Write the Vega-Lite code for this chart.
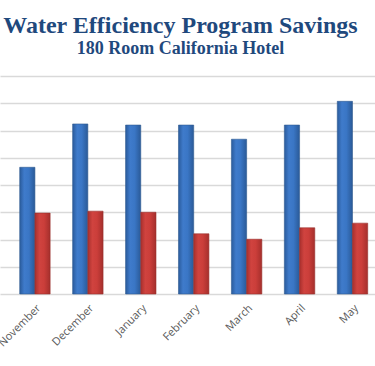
{
  "$schema": "https://vega.github.io/schema/vega-lite/v6.json",
  "autosize": "none",
  "width": 375,
  "height": 218,
  "padding": {"left": 0, "top": 76, "right": 0, "bottom": 72},
  "background": "white",
  "title": {
    "text": "Water Efficiency Program Savings",
    "subtitle": "180 Room California Hotel",
    "anchor": "middle",
    "dx": -7,
    "offset": 18,
    "font": "Liberation Serif",
    "fontSize": 24,
    "fontWeight": "bold",
    "color": "#1F497D",
    "subtitleFont": "Liberation Serif",
    "subtitleFontSize": 18,
    "subtitleFontWeight": "bold",
    "subtitleColor": "#1F497D",
    "subtitlePadding": 2
  },
  "data": {
    "values": [
      {"month": "November", "series": "Before", "value": 46.5},
      {"month": "November", "series": "After", "value": 29.7},
      {"month": "December", "series": "Before", "value": 62.4},
      {"month": "December", "series": "After", "value": 30.4},
      {"month": "January", "series": "Before", "value": 62.0},
      {"month": "January", "series": "After", "value": 30.0},
      {"month": "February", "series": "Before", "value": 62.0},
      {"month": "February", "series": "After", "value": 22.1},
      {"month": "March", "series": "Before", "value": 56.8},
      {"month": "March", "series": "After", "value": 20.1},
      {"month": "April", "series": "Before", "value": 62.0},
      {"month": "April", "series": "After", "value": 24.3},
      {"month": "May", "series": "Before", "value": 70.7},
      {"month": "May", "series": "After", "value": 26.0}
    ]
  },
  "encoding": {
    "x": {
      "field": "month",
      "type": "nominal",
      "sort": null,
      "scale": {"paddingInner": 0.425, "paddingOuter": 0.255, "align": 0.73},
      "axis": {
        "title": null,
        "labelAngle": -45,
        "labelFont": "Open Sans",
        "labelFontSize": 11,
        "labelColor": "#595959",
        "labelPadding": 8,
        "ticks": false,
        "domain": false
      }
    },
    "xOffset": {"field": "series", "type": "nominal", "sort": ["Before", "After"]},
    "y": {
      "field": "value",
      "type": "quantitative",
      "scale": {"domain": [0, 80], "nice": false},
      "axis": {
        "title": null,
        "labels": false,
        "ticks": false,
        "domain": false,
        "values": [0, 10, 20, 30, 40, 50, 60, 70, 80],
        "gridColor": "#D9D9D9",
        "gridWidth": 1.5,
        "gridOpacity": 1
      }
    }
  },
  "layer": [
    {
      "transform": [{"filter": "datum.series === 'Before'"}],
      "mark": {
        "type": "bar",
        "fill": {
          "gradient": "linear", "x1": 0, "y1": 0, "x2": 1, "y2": 0,
          "stops": [
            {"offset": 0, "color": "#2A5B9C"},
            {"offset": 0.3, "color": "#3F7BCB"},
            {"offset": 0.6, "color": "#3A76C5"},
            {"offset": 1, "color": "#2A5A98"}
          ]
        },
        "stroke": "#2F5A90",
        "strokeWidth": 0.6
      }
    },
    {
      "transform": [{"filter": "datum.series === 'After'"}],
      "mark": {
        "type": "bar",
        "fill": {
          "gradient": "linear", "x1": 0, "y1": 0, "x2": 1, "y2": 0,
          "stops": [
            {"offset": 0, "color": "#A8302D"},
            {"offset": 0.3, "color": "#D0433F"},
            {"offset": 0.6, "color": "#CB3E3A"},
            {"offset": 1, "color": "#A52F2C"}
          ]
        },
        "stroke": "#98302D",
        "strokeWidth": 0.6
      }
    }
  ],
  "config": {"view": {"stroke": null}}
}
